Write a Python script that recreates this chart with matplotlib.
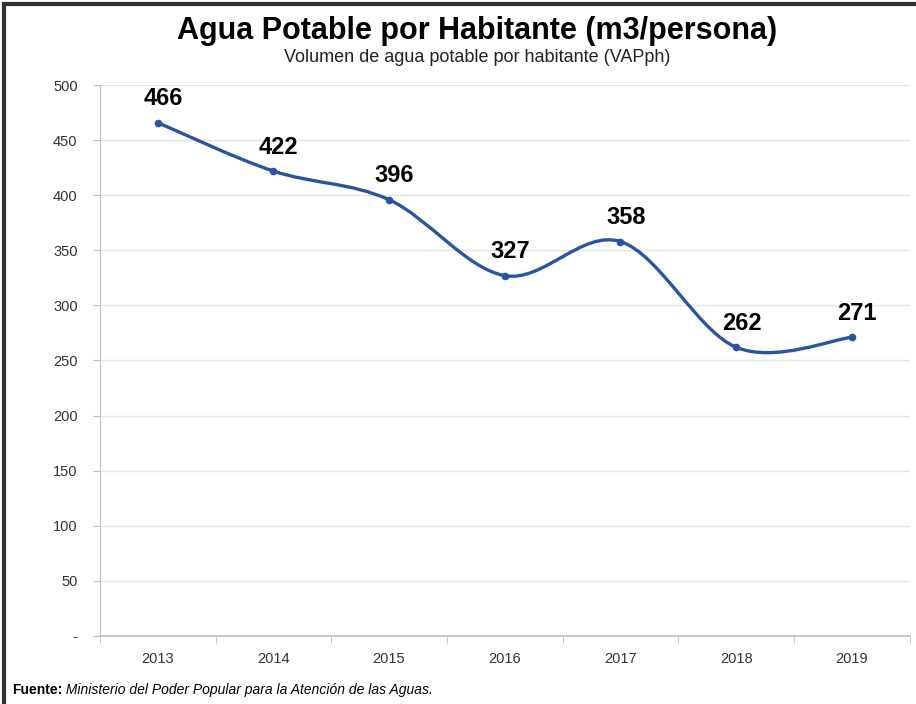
import numpy as np
import matplotlib
matplotlib.use("Agg")
import matplotlib.pyplot as plt
from matplotlib.path import Path
from matplotlib.patches import PathPatch
from matplotlib.lines import Line2D

# datos
years = ["2013", "2014", "2015", "2016", "2017", "2018", "2019"]
values = [466, 422, 396, 327, 358, 262, 271]
y_ticks = [0, 50, 100, 150, 200, 250, 300, 350, 400, 450, 500]
y_tick_labels = ["-", "50", "100", "150", "200", "250", "300", "350", "400", "450", "500"]

title = "Agua Potable por Habitante (m3/persona)"
subtitle = "Volumen de agua potable por habitante (VAPph)"
source_bold = "Fuente:"
source_text = " Ministerio del Poder Popular para la Atención de las Aguas."

line_color = "#2855a3"
plt.rcParams["font.family"] = ["Liberation Sans", "DejaVu Sans"]

fig = plt.figure(figsize=(9.16, 7.04), dpi=100)
ax = fig.add_axes([0.109, 0.097, 0.884, 0.782])

x = np.arange(len(years))
y = np.array(values, dtype=float)

# linea suavizada estilo Excel (Bezier entre los puntos)
verts = [(x[0], y[0])]
codes = [Path.MOVETO]
t = 1.0 / 6.0
for i in range(len(x) - 1):
    p0 = (x[i - 1], y[i - 1]) if i > 0 else (x[i], y[i])
    p1 = (x[i], y[i])
    p2 = (x[i + 1], y[i + 1])
    p3 = (x[i + 2], y[i + 2]) if i + 2 < len(x) else (x[i + 1], y[i + 1])
    c1 = (p1[0] + (p2[0] - p0[0]) * t, p1[1] + (p2[1] - p0[1]) * t)
    c2 = (p2[0] - (p3[0] - p1[0]) * t, p2[1] - (p3[1] - p1[1]) * t)
    verts += [c1, c2, p2]
    codes += [Path.CURVE4] * 3
ax.add_patch(PathPatch(Path(verts, codes), facecolor="none",
                       edgecolor=line_color, lw=2.4, zorder=3))
ax.plot(x, y, "o", color=line_color, ms=4.5, zorder=4)

for xi, v in zip(x, values):
    ax.annotate(str(v), (xi, v), xytext=(4, 9), textcoords="offset points",
                ha="center", va="bottom", fontsize=17, fontweight="bold",
                color="black")

ax.set_xlim(-0.5, len(years) - 0.5)
ax.set_ylim(0, 500)
ax.set_yticks(y_ticks)
ax.set_yticklabels(y_tick_labels)
ax.set_xticks(x)
ax.set_xticklabels(years)
ax.set_xticks(np.arange(-0.5, len(years)), minor=True)
ax.tick_params(axis="x", which="major", length=0, pad=12, labelsize=10.5,
               labelcolor="#333333")
ax.tick_params(axis="x", which="minor", length=5, color="#bfbfbf")
ax.tick_params(axis="y", length=5, color="#bfbfbf", pad=11, labelsize=10.5,
               labelcolor="#333333")

ax.grid(axis="y", color="#e4e4e4", lw=1)
ax.set_axisbelow(True)
for s in ["top", "right"]:
    ax.spines[s].set_visible(False)
ax.spines["left"].set_color("#bfbfbf")
ax.spines["bottom"].set_color("#bfbfbf")
ax.spines["bottom"].set_linewidth(1.2)

fig.text(0.521, 0.956, title, ha="center", va="center", fontsize=22,
         fontweight="bold")
fig.text(0.521, 0.918, subtitle, ha="center", va="center", fontsize=13,
         color="#222222")

t1 = fig.text(0.013, 0.02, source_bold, ha="left", va="center", fontsize=10,
              fontweight="bold")
fig.canvas.draw()
bb = t1.get_window_extent()
fig.text(bb.x1 / fig.bbox.width, 0.02, source_text, ha="left", va="center",
         fontsize=10, style="italic")

# marco superior e izquierdo
fig.add_artist(Line2D([0.004, 1], [0.995, 0.995], color="#333333", lw=3,
                      transform=fig.transFigure))
fig.add_artist(Line2D([0.004, 0.004], [0, 0.995], color="#333333", lw=3,
                      transform=fig.transFigure))

fig.savefig("out.png", dpi=100)
